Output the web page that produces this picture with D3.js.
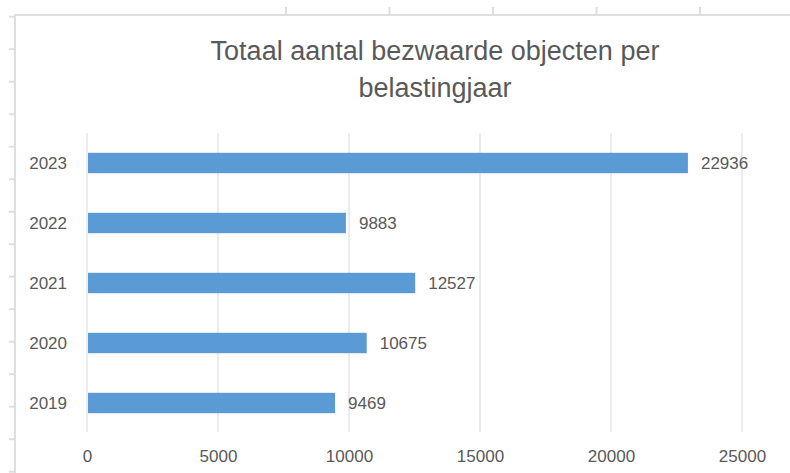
<!DOCTYPE html>
<html>
<head>
<meta charset="utf-8">
<script src="https://cdn.jsdelivr.net/npm/d3@7"></script>
<style>
    body { margin: 0; background: #fff; }
    svg text { font-family: "Liberation Sans", Arial, sans-serif; fill: #595959; }
    .grid { stroke: #d9d9d9; stroke-width: 1; }
    .frame { stroke: #dedede; stroke-width: 2; fill: none; }
</style>
</head>
<body>
<svg id="chart"></svg>
<script>
// data
const years = ['2023', '2022', '2021', '2020', '2019']
const objecten = [22936, 9883, 12527, 10675, 9469]
const xTicks = [0, 5000, 10000, 15000, 20000, 25000]
const titleLines = ['Totaal aantal bezwaarde objecten per', 'belastingjaar']

const width = 790
const height = 473

const chart = d3.select('#chart')
    .attr('width', width)
    .attr('height', height)

// spreadsheet cell borders behind the chart object
const rowLines = d3.range(16.7, height, 32.5)
chart.selectAll('.row').data(rowLines).enter().append('line')
    .attr('class', 'frame')
    .attr('x1', 9).attr('x2', 15)
    .attr('y1', d => d).attr('y2', d => d)
const colLines = d3.range(286, width, 103.5)
chart.selectAll('.col').data(colLines).enter().append('line')
    .attr('class', 'frame')
    .attr('x1', d => d).attr('x2', d => d)
    .attr('y1', 7).attr('y2', 15)

// chart object border
chart.append('path')
    .attr('class', 'frame')
    .attr('d', `M15,${height} V15 H${width}`)

const xScale = d3.scaleLinear().domain([0, 25000]).range([87, 742])
const yScale = d3.scaleBand().domain(years).range([133, 433])
    .paddingInner(0.66).paddingOuter(0.33)

// vertical grid
chart.selectAll('.grid').data(xTicks).enter().append('line')
    .attr('class', 'grid')
    .attr('x1', d => xScale(d)).attr('x2', d => xScale(d))
    .attr('y1', 133).attr('y2', 432)

// x axis labels
const xAxis = d3.axisBottom(xScale).tickValues(xTicks).tickFormat(d3.format('d'))
    .tickSize(0).tickPadding(0)
const axisX = chart.append('g')
    .attr('transform', 'translate(0, 450)')
    .call(xAxis)
axisX.select('.domain').remove()
axisX.selectAll('text').style('font-size', '17px').attr('dy', '0.7em').attr('y', 0)

// y axis labels
const yAxis = d3.axisLeft(yScale).tickSize(0).tickPadding(0)
const axisY = chart.append('g')
    .attr('transform', 'translate(67, 0)')
    .call(yAxis)
axisY.select('.domain').remove()
axisY.selectAll('text').style('font-size', '17px').attr('dy', '0.36em')

const rows = years.map((y, i) => ({ year: y, value: objecten[i] }))

// bars
chart.selectAll('.bar').data(rows).enter().append('rect')
    .attr('class', 'bar')
    .attr('x', xScale(0) + 1)
    .attr('y', d => yScale(d.year))
    .attr('width', d => xScale(d.value) - xScale(0) - 1)
    .attr('height', yScale.bandwidth())
    .attr('fill', '#5b9bd5')

// value labels
chart.selectAll('.val').data(rows).enter().append('text')
    .attr('x', d => xScale(d.value) + 13)
    .attr('y', d => yScale(d.year) + yScale.bandwidth() / 2)
    .attr('dy', '0.36em')
    .style('font-size', '17px')
    .text(d => d.value)

// title
chart.selectAll('.title').data(titleLines).enter().append('text')
    .attr('x', 435)
    .attr('y', (d, i) => 60 + i * 37)
    .attr('text-anchor', 'middle')
    .style('font-size', '27px')
    .text(d => d)
</script>
</body>
</html>
